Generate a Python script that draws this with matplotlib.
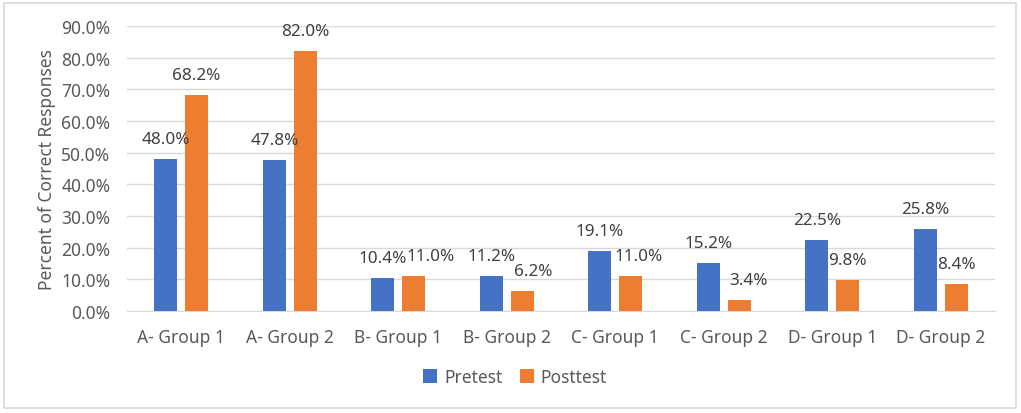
import matplotlib
matplotlib.use("Agg")
import matplotlib.pyplot as plt
import numpy as np
from matplotlib.patches import Rectangle
from matplotlib.ticker import FuncFormatter, MultipleLocator

categories = ["A- Group 1", "A- Group 2", "B- Group 1", "B- Group 2",
              "C- Group 1", "C- Group 2", "D- Group 1", "D- Group 2"]
pretest = [48.0, 47.8, 10.4, 11.2, 19.1, 15.2, 22.5, 25.8]
posttest = [68.2, 82.0, 11.0, 6.2, 11.0, 3.4, 9.8, 8.4]

# small horizontal nudges (points) of the posttest data labels, as in the original
post_label_nudge = [0, 0, 12, 8, 6, 6.5, 0, 0]

plt.rcParams['font.family'] = ['Noto Sans', 'DejaVu Sans']
label_color = '#404040'
tick_color = '#595959'

fig = plt.figure(figsize=(10.21, 4.14), dpi=100)
ax = fig.add_axes([127/1021, 1-312/414, 868/1021, (312-27)/414])

x = np.arange(len(categories))
w = 0.21
gap = 0.037
b1 = ax.bar(x - w/2 - gap, pretest, w, color='#4472C4', label='Pretest', zorder=3)
b2 = ax.bar(x + w/2 + gap, posttest, w, color='#ED7D31', label='Posttest', zorder=3)

for bars, vals, nudges in ((b1, pretest, [0]*len(pretest)), (b2, posttest, post_label_nudge)):
    for r, v, dx in zip(bars, vals, nudges):
        ax.annotate(f"{v:.1f}%", (r.get_x() + r.get_width()/2, v),
                    xytext=(dx, 14.4), textcoords='offset points',
                    ha='center', va='center', fontsize=12.3, color=label_color)

ax.set_xlim(-0.5, len(categories) - 0.5)
ax.set_ylim(0, 90)
ax.yaxis.set_major_locator(MultipleLocator(10))
ax.yaxis.set_major_formatter(FuncFormatter(lambda v, p: f"{v:.1f}%"))
ax.set_xticks(x)
ax.set_xticklabels(categories)
ax.tick_params(axis='both', length=0, labelsize=12.5, labelcolor=tick_color)
ax.tick_params(axis='x', pad=12)
ax.tick_params(axis='y', pad=12)
ax.grid(axis='y', color='#D9D9D9', linewidth=1, zorder=0)
for s in ['top', 'right', 'left']:
    ax.spines[s].set_visible(False)
ax.spines['bottom'].set_color('#D9D9D9')
ax.set_ylabel("Percent of Correct Responses", fontsize=12.5, color=tick_color, labelpad=4)

leg = fig.legend(handles=[b1, b2], labels=['Pretest', 'Posttest'], loc='center',
                 bbox_to_anchor=(515/1021, 1-378/414), ncol=2, frameon=False,
                 fontsize=12.5, handlelength=0.8, handleheight=0.8,
                 columnspacing=1.0, handletextpad=0.4)
for t in leg.get_texts():
    t.set_color(tick_color)

border = Rectangle((4/1021, 5/414), 1012/1021, 405/414,
                   transform=fig.transFigure, fill=False,
                   edgecolor='#D9D9D9', linewidth=1.2)
fig.patches.append(border)

fig.savefig("out.png", dpi=100)
